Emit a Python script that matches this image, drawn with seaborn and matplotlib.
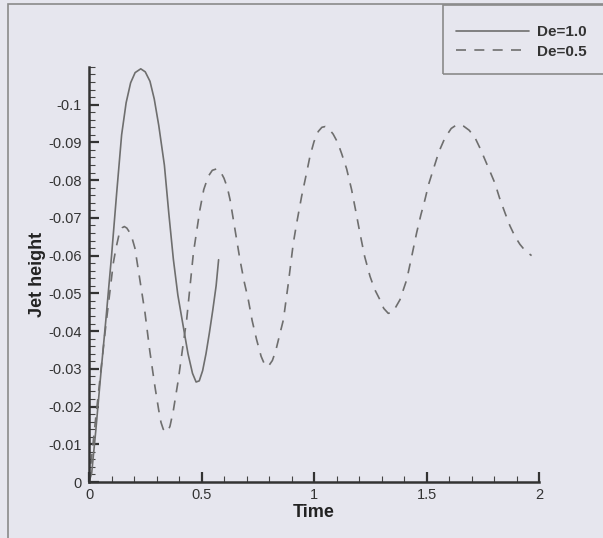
import numpy as np
import pandas as pd
import matplotlib
matplotlib.use("Agg")
import matplotlib.pyplot as plt
import matplotlib.patches as mpatches
from matplotlib.ticker import MultipleLocator, FixedLocator, FuncFormatter
import seaborn as sns

# De=1.0 (solid)
time_de1 = [0.0, 0.012, 0.03, 0.05, 0.075, 0.1, 0.123, 0.145, 0.165, 0.185, 0.205,
            0.23, 0.25, 0.271, 0.29, 0.31, 0.335, 0.355, 0.375, 0.395, 0.419, 0.44,
            0.46, 0.476, 0.49, 0.505, 0.52, 0.535, 0.55, 0.565, 0.576]
height_de1 = [0.0, -0.0024, -0.0135, -0.027, -0.043, -0.0598, -0.0766, -0.092, -0.1005,
              -0.1058, -0.1085, -0.1095, -0.1087, -0.1062, -0.1015, -0.0945, -0.084,
              -0.071, -0.059, -0.0495, -0.0412, -0.034, -0.0288, -0.0265, -0.0268,
              -0.0295, -0.034, -0.0395, -0.0455, -0.052, -0.0589]

# De=0.5 (dashed)
time_de05 = [0.0, 0.03, 0.05, 0.071, 0.09, 0.108, 0.12, 0.135, 0.148, 0.157, 0.168,
             0.18, 0.192, 0.204, 0.225, 0.249, 0.27, 0.293, 0.31, 0.32, 0.33, 0.34,
             0.35, 0.36, 0.375, 0.397, 0.415, 0.434, 0.464, 0.493, 0.51, 0.53, 0.548,
             0.568, 0.585, 0.6, 0.615, 0.627, 0.65, 0.671, 0.69, 0.708, 0.725, 0.745,
             0.765, 0.78, 0.79, 0.8, 0.815, 0.83, 0.849, 0.864, 0.886, 0.908, 0.923,
             0.945, 0.967, 0.982, 1.0, 1.019, 1.035, 1.05, 1.065, 1.085, 1.105, 1.123,
             1.145, 1.167, 1.185, 1.204, 1.225, 1.249, 1.27, 1.293, 1.31, 1.33, 1.345,
             1.36, 1.382, 1.412, 1.435, 1.456, 1.475, 1.493, 1.51, 1.53, 1.555, 1.582,
             1.61, 1.63, 1.646, 1.665, 1.69, 1.716, 1.74, 1.76, 1.78, 1.804, 1.825,
             1.849, 1.87, 1.893, 1.915, 1.94, 1.967]
height_de05 = [0.0, -0.017, -0.028, -0.0395, -0.049, -0.058, -0.062, -0.066, -0.0674,
               -0.0677, -0.0673, -0.0662, -0.0645, -0.062, -0.054, -0.0448, -0.0348,
               -0.0253, -0.019, -0.0158, -0.014, -0.0133, -0.0134, -0.0148, -0.019,
               -0.0271, -0.035, -0.043, -0.0607, -0.0722, -0.0775, -0.081, -0.0826,
               -0.083, -0.0822, -0.0805, -0.078, -0.0748, -0.0665, -0.0589, -0.053,
               -0.0483, -0.0428, -0.0377, -0.0333, -0.0312, -0.0306, -0.0309, -0.0322,
               -0.0348, -0.0394, -0.043, -0.0527, -0.0633, -0.0686, -0.0757, -0.0819,
               -0.0863, -0.0902, -0.0929, -0.094, -0.0942, -0.0937, -0.0922, -0.09,
               -0.087, -0.083, -0.0775, -0.072, -0.066, -0.0598, -0.0545, -0.051,
               -0.0483, -0.046, -0.0447, -0.0449, -0.046, -0.0483, -0.0536, -0.06,
               -0.066, -0.0708, -0.0748, -0.079, -0.0828, -0.0875, -0.0912, -0.0937,
               -0.0945, -0.0947, -0.0943, -0.0932, -0.0912, -0.0882, -0.0854, -0.0826,
               -0.0792, -0.0752, -0.0713, -0.068, -0.0651, -0.063, -0.0612, -0.060]

bg = "#e6e6ee"
line_col = "#6e6e6e"

sns.set_style("ticks")
plt.rcParams["font.family"] = ["Liberation Sans", "DejaVu Sans"]
plt.rcParams["axes.unicode_minus"] = False

df1 = pd.DataFrame({"Time": time_de1, "h": height_de1})
df2 = pd.DataFrame({"Time": time_de05, "h": height_de05})

fig = plt.figure(figsize=(6.03, 5.38), dpi=100, facecolor=bg)
ax = fig.add_axes([89 / 603, 56 / 538, 450 / 603, 0.7715])
ax.set_facecolor(bg)

sns.lineplot(data=df1, x="Time", y="h", ax=ax, color=line_col, lw=1.2,
             sort=False, label="De=1.0", legend=False)
sns.lineplot(data=df2, x="Time", y="h", ax=ax, color=line_col, lw=1.2,
             sort=False, label="De=0.5", legend=False)
ax.lines[1].set_dashes((6, 5))
for ln in ax.lines:
    ln.set_solid_joinstyle("round")

ax.set_xlim(0, 2)
ax.set_ylim(0, -0.11)
ax.xaxis.set_major_locator(MultipleLocator(0.5))
ax.xaxis.set_minor_locator(MultipleLocator(0.1))
ax.yaxis.set_major_locator(FixedLocator([-0.01 * i for i in range(11)]))
ax.yaxis.set_minor_locator(MultipleLocator(0.002))
fmt = FuncFormatter(lambda v, p: "%g" % round(v, 4) if abs(v) > 1e-9 else "0")
ax.xaxis.set_major_formatter(fmt)
ax.yaxis.set_major_formatter(fmt)

for s in ["top", "right"]:
    ax.spines[s].set_visible(False)
for s in ["left", "bottom"]:
    ax.spines[s].set_linewidth(1.8)
    ax.spines[s].set_color("#333333")

ax.tick_params(which="major", direction="in", length=7, width=1.6, color="#333333",
               labelsize=10.5, labelcolor="#333333", pad=4)
ax.tick_params(which="minor", direction="in", length=4, width=0.8, color="#444444")
ax.tick_params(axis="y", which="major", pad=5)

ax.set_xlabel("Time", fontsize=13, fontweight="bold", color="#222222", labelpad=2)
ax.set_ylabel("Jet height", fontsize=13, fontweight="bold", color="#222222", labelpad=2)

# outer frame and legend box
fig.add_artist(mpatches.Rectangle((8 / 603, -0.02), 1.0, 1 - 4 / 538 + 0.02,
                                  transform=fig.transFigure, fill=False,
                                  edgecolor="#8a8a8a", lw=1.2))
fig.add_artist(mpatches.Rectangle((443 / 603, 1 - 74 / 538), 0.3, 69 / 538,
                                  transform=fig.transFigure, fill=False,
                                  edgecolor="#8a8a8a", lw=1.2))
handles, labels = ax.get_legend_handles_labels()
fig.legend(handles, labels, frameon=False, loc="center left",
           bbox_to_anchor=(450 / 603, 1 - 42 / 538), borderaxespad=0,
           handlelength=4.8, handletextpad=0.5, labelspacing=0.35,
           prop={"weight": "bold", "size": 11}, labelcolor="#333333")

fig.savefig("out.png", dpi=100, facecolor=bg)
